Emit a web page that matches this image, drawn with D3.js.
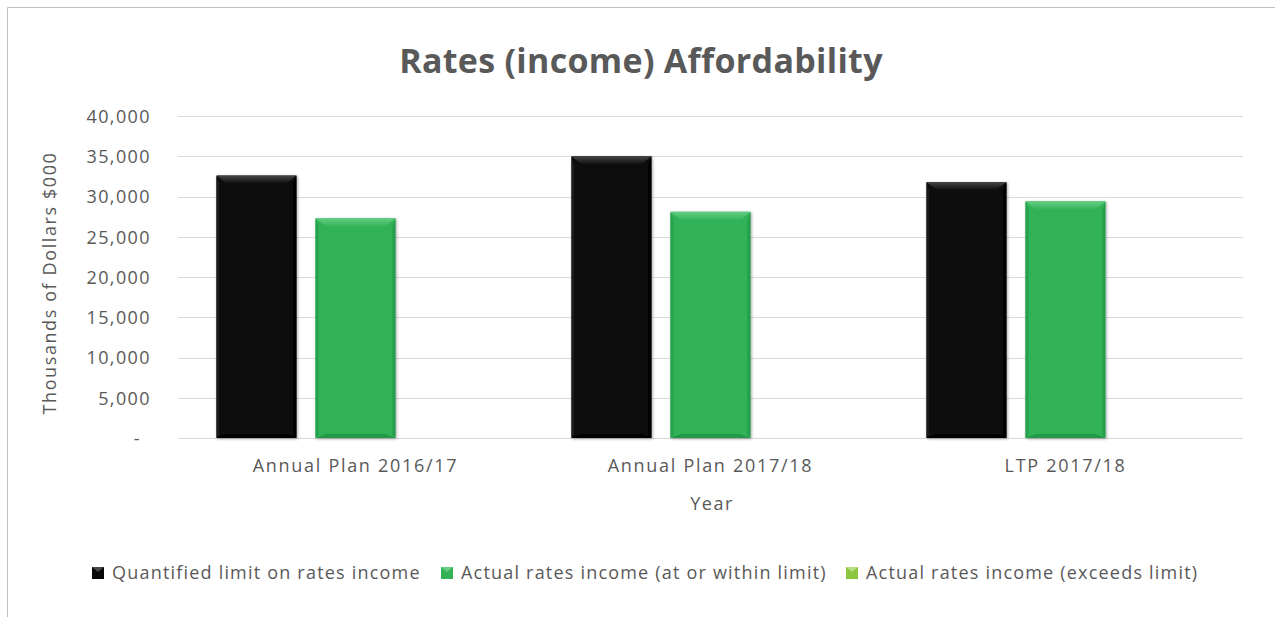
<!DOCTYPE html>
<html>
<head>
<meta charset="utf-8">
<script src="https://cdn.jsdelivr.net/npm/d3@7"></script>
<style>
  html, body { margin: 0; padding: 0; background: #fff; }
  svg { display: block; }
  text { font-family: "Open Sans", "Noto Sans", sans-serif; fill: #595959; }
</style>
</head>
<body>
<svg id="chart" width="1275" height="617"></svg>
<script>
// Rates income affordability, thousands of dollars
const categories = ["Annual Plan 2016/17", "Annual Plan 2017/18", "LTP 2017/18"];
const seriesNames = [
  "Quantified limit on rates income",
  "Actual rates income (at or within limit)",
  "Actual rates income (exceeds limit)"
];
const quantifiedLimit = [32600, 35000, 31800];
const actualWithin = [27300, 28100, 29400];
const actualExceeds = [0, 0, 0];
const yTicks = [0, 5000, 10000, 15000, 20000, 25000, 30000, 35000, 40000];

const seriesValues = [quantifiedLimit, actualWithin, actualExceeds];
const seriesColors = [
  { base: "#070707", light: "#474747", dark: "#000000", side: "#1a1a1a" },
  { base: "#31b257", light: "#66cd84", dark: "#1f8f43", side: "#27a14d" },
  { base: "#8cc63e", light: "#b8de80", dark: "#6ea42a", side: "#7db535" }
];

const svg = d3.select("#chart");
const W = 1275, H = 617;
const plot = { left: 178, right: 1243, top: 116, bottom: 438 };

// chart frame (only the top and left edges fall inside the view)
svg.append("line").attr("x1", 7.5).attr("x2", W).attr("y1", 7.5).attr("y2", 7.5)
  .attr("stroke", "#bfbfbf").attr("stroke-width", 1);
svg.append("line").attr("x1", 7.5).attr("x2", 7.5).attr("y1", 7.5).attr("y2", H)
  .attr("stroke", "#bfbfbf").attr("stroke-width", 1);

const x0 = d3.scaleBand().domain(categories).range([plot.left, plot.right]).padding(0);
const x1 = d3.scaleBand().domain(d3.range(seriesNames.length))
  .range([0, x0.bandwidth()]).paddingInner(0.192).paddingOuter(0.389);
const y = d3.scaleLinear().domain([0, 40000]).range([plot.bottom, plot.top]);

// gridlines
svg.append("g").selectAll("line").data(yTicks).join("line")
  .attr("x1", plot.left).attr("x2", plot.right)
  .attr("y1", d => Math.round(y(d)) + 0.5).attr("y2", d => Math.round(y(d)) + 0.5)
  .attr("stroke", "#d9d9d9").attr("stroke-width", 1);

// y axis labels
const yAxis = d3.axisLeft(y).tickValues(yTicks)
  .tickFormat(d => d === 0 ? "-" : d3.format(",")(d))
  .tickSize(0).tickPadding(0);
const yg = svg.append("g").attr("transform", `translate(${plot.left - 27},0)`).call(yAxis);
yg.select(".domain").remove();
yg.selectAll("text").style("font-family", "'Open Sans', sans-serif")
  .style("font-size", "18px").style("letter-spacing", "1.4px")
  .attr("fill", "#595959").attr("dy", "0.35em")
  .attr("dx", d => d === 0 ? -10 : 0);

// x axis labels
const xAxis = d3.axisBottom(x0).tickSize(0).tickPadding(0);
const xg = svg.append("g").attr("transform", `translate(0,${plot.bottom + 21})`).call(xAxis);
xg.select(".domain").remove();
xg.selectAll("text").style("font-family", "'Open Sans', sans-serif")
  .style("font-size", "18px").style("letter-spacing", "1.7px")
  .attr("fill", "#595959").attr("dy", "0.71em");

// drop shadow for bevelled bars
const defs = svg.append("defs");
const f = defs.append("filter").attr("id", "shadow").attr("x", "-10%").attr("y", "-10%")
  .attr("width", "120%").attr("height", "120%");
f.append("feGaussianBlur").attr("in", "SourceAlpha").attr("stdDeviation", 1.5).attr("result", "b");
f.append("feOffset").attr("in", "b").attr("dx", 1).attr("dy", 1).attr("result", "o");
f.append("feComponentTransfer").attr("in", "o").attr("result", "s")
  .append("feFuncA").attr("type", "linear").attr("slope", 0.35);
const fm = f.append("feMerge");
fm.append("feMergeNode").attr("in", "s");
fm.append("feMergeNode").attr("in", "SourceGraphic");

seriesColors.forEach((c, i) => {
  const gTop = defs.append("linearGradient").attr("id", "top" + i)
    .attr("x1", 0).attr("y1", 0).attr("x2", 0).attr("y2", 1);
  gTop.append("stop").attr("offset", "0%").attr("stop-color", c.light);
  gTop.append("stop").attr("offset", "100%").attr("stop-color", c.base);
});

// bars, with a bevel drawn from each bar's own box
const bevel = 9;
const bars = [];
categories.forEach((cat, ci) => {
  seriesValues.forEach((vals, si) => {
    bars.push({ cat, si, v: vals[ci] });
  });
});

const barG = svg.append("g");
bars.filter(d => d.v > 0).forEach(d => {
  const c = seriesColors[d.si];
  const bx = x0(d.cat) + x1(d.si);
  const bw = x1.bandwidth();
  const by = y(d.v);
  const bh = y(0) - by;
  const g = barG.append("g").attr("filter", "url(#shadow)");
  g.append("rect").attr("x", bx).attr("y", by).attr("width", bw).attr("height", bh)
    .attr("fill", c.base);
  // side bevels
  g.append("polygon").attr("points", [[bx, by], [bx + 3, by + bevel], [bx + 3, by + bh - 3], [bx, by + bh]].join(" "))
    .attr("fill", c.side);
  g.append("polygon").attr("points", [[bx + bw, by], [bx + bw - 3, by + bevel], [bx + bw - 3, by + bh - 3], [bx + bw, by + bh]].join(" "))
    .attr("fill", c.dark).attr("opacity", 0.6);
  // bottom bevel
  g.append("polygon").attr("points", [[bx, by + bh], [bx + 10, by + bh - 4], [bx + bw - 10, by + bh - 4], [bx + bw, by + bh]].join(" "))
    .attr("fill", c.dark).attr("opacity", 0.7);
  // top bevel
  g.append("polygon").attr("points", [[bx, by], [bx + bw, by], [bx + bw - 11, by + bevel], [bx + 11, by + bevel]].join(" "))
    .attr("fill", `url(#top${d.si})`);
});

// title
svg.append("text").attr("x", 641).attr("y", 73).attr("text-anchor", "middle")
  .style("font-size", "34px").style("font-weight", "bold").style("letter-spacing", "0.3px")
  .attr("fill", "#595959")
  .text("Rates (income) Affordability");

// axis titles
svg.append("text").attr("x", 712).attr("y", 510).attr("text-anchor", "middle")
  .style("font-size", "18px").style("letter-spacing", "1.5px").text("Year");
svg.append("text").attr("transform", "translate(56,283) rotate(-90)").attr("text-anchor", "middle")
  .style("font-size", "18px").style("letter-spacing", "1.6px").text("Thousands of Dollars $000");

// legend
const legendX = [92, 441, 846];
const lg = svg.append("g").attr("transform", "translate(0,573)");
seriesNames.forEach((name, i) => {
  const c = seriesColors[i];
  const g = lg.append("g").attr("transform", `translate(${legendX[i]},0)`);
  g.append("rect").attr("x", 0).attr("y", -6).attr("width", 12).attr("height", 12).attr("fill", c.base);
  g.append("polygon").attr("points", "0,-6 12,-6 6,-1").attr("fill", c.light);
  g.append("text").attr("x", 20).attr("y", 0).attr("dy", "0.35em")
    .style("font-size", "18px").style("letter-spacing", "1.2px").text(name);
});
</script>
</body>
</html>
